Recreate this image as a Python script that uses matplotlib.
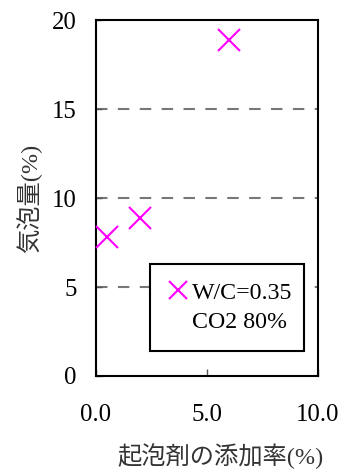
import matplotlib
matplotlib.use("Agg")
import matplotlib.pyplot as plt
from matplotlib.lines import Line2D
from matplotlib.patches import Rectangle

# foaming agent dosage (%) vs. air content (%)
dosage = [0.5, 2.0, 6.0]
air_content = [7.8, 8.9, 18.9]
xticks = [0, 5, 10]
xtick_labels = ["0.0", "5.0", "10.0"]
yticks = [0, 5, 10, 15, 20]
series_label = "W/C=0.35"
series_note = "CO2 80%"

serif = ["Liberation Serif", "Noto Sans CJK JP"]
plt.rcParams["font.family"] = serif
plt.rcParams["font.size"] = 17.8

fig = plt.figure(figsize=(3.46, 4.70), dpi=100)
ax = fig.add_axes([96 / 346, 1 - 376 / 470, 222 / 346, 356 / 470])

ax.plot(dosage, air_content, linestyle="none", marker="x", color="#ff00ff",
        markersize=16, markeredgewidth=1.5, clip_on=False, zorder=3)

ax.set_xlim(0, 10)
ax.set_ylim(0, 20)
ax.set_xticks(xticks)
ax.set_xticklabels(xtick_labels)
ax.set_yticks(yticks)

for y in yticks[1:-1]:
    ax.axhline(y, color="#777777", linewidth=1.5, dashes=(5.5, 5), zorder=1)

for s in ax.spines.values():
    s.set_linewidth(1.5)
    s.set_color("black")

ax.tick_params(axis="x", direction="in", length=5, width=1, color="#555555", pad=20)
ax.tick_params(axis="y", direction="in", length=4, width=1, color="#555555", pad=14)

ax.set_xlabel("起泡剤の添加率(%)", family=serif, fontsize=17.5, color="#333333")
ax.xaxis.set_label_coords(0.56, -0.19)
ax.set_ylabel("気泡量(%)", family=serif, fontsize=17.5, color="#333333")
ax.yaxis.set_label_coords(-0.245, 0.5)

# legend: boxed frame drawn separately so its size can be set directly
ax.add_patch(Rectangle((0.243, 0.070), 0.694, 0.245, transform=ax.transAxes,
                       facecolor="white", edgecolor="black", linewidth=1.5,
                       zorder=4))
handles = [
    Line2D([], [], linestyle="none", marker="x", color="#ff00ff",
           markersize=13, markeredgewidth=1.5),
    Line2D([], [], linestyle="none"),
]
leg = ax.legend(handles, [series_label, series_note], loc="upper left",
                bbox_to_anchor=(0.315, 0.264), frameon=False,
                borderpad=0, handlelength=1.0, handletextpad=0.1,
                labelspacing=0.3, borderaxespad=0, fontsize=17.2)
leg.set_zorder(5)

fig.savefig("out.png", dpi=100)
